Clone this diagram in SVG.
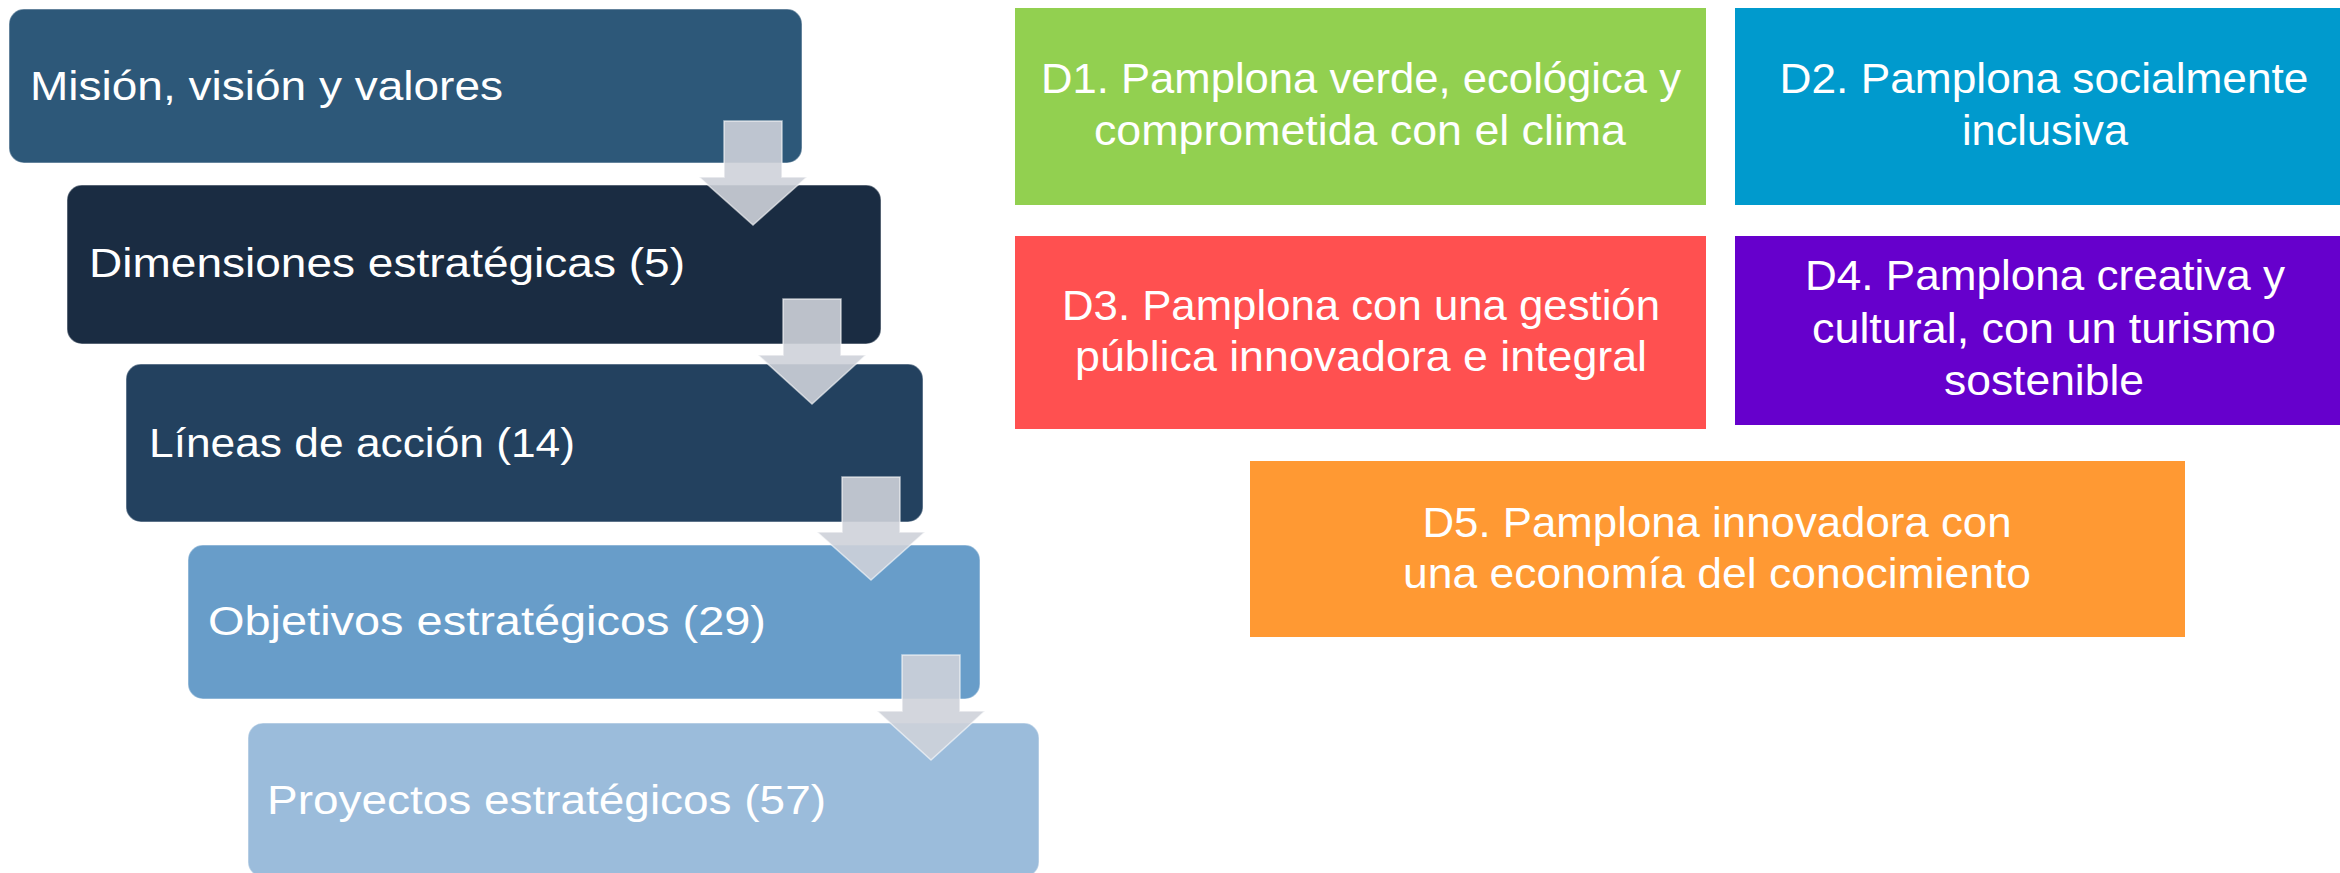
<svg xmlns="http://www.w3.org/2000/svg" width="2340" height="873" viewBox="0 0 2340 873">
<style>
.lbl{font-family:"Liberation Sans",Arial,sans-serif;fill:#fff;font-size:40px}
.dl{font-family:"Liberation Sans",Arial,sans-serif;fill:#fff;font-size:42px;text-anchor:middle}
.step{stroke:#ffffff;stroke-opacity:0.35;stroke-width:1.5}
.arr{fill:#CED1D9;fill-opacity:0.9;stroke:#ffffff;stroke-opacity:0.6;stroke-width:1.5}
</style>
<rect width="2340" height="873" fill="#ffffff"/>
<g id="n1"><rect class="step" x="9" y="9" width="793" height="154" rx="15" fill="#2D5879"/><text class="lbl" x="30" y="100" textLength="473" lengthAdjust="spacingAndGlyphs">Misión, visión y valores</text></g>
<g id="n2"><rect class="step" x="67" y="185" width="814" height="159" rx="15" fill="#1A2C42"/><text class="lbl" x="89" y="277" textLength="596" lengthAdjust="spacingAndGlyphs">Dimensiones estratégicas (5)</text></g>
<g id="n3"><rect class="step" x="126" y="364" width="797" height="158" rx="15" fill="#23415F"/><text class="lbl" x="149" y="457" textLength="426" lengthAdjust="spacingAndGlyphs">Líneas de acción (14)</text></g>
<g id="n4"><rect class="step" x="188" y="545" width="792" height="154" rx="15" fill="#689DC9"/><text class="lbl" x="208" y="635" textLength="558" lengthAdjust="spacingAndGlyphs">Objetivos estratégicos (29)</text></g>
<g id="n5"><rect class="step" x="248" y="723" width="791" height="154" rx="15" fill="#9BBCDB"/><text class="lbl" x="267" y="814" textLength="559" lengthAdjust="spacingAndGlyphs">Proyectos estratégicos (57)</text></g>
<g id="connectors">
<path class="arr" d="M724,121 H782 V177 H807 L753,225 L699,177 H724 Z"/>
<path class="arr" d="M783,299 H841 V355 H866 L812,404 L758,355 H783 Z"/>
<path class="arr" d="M842,477 H900 V532 H925 L871,580 L817,532 H842 Z"/>
<path class="arr" d="M902,655 H960 V711 H985 L931,760 L877,711 H902 Z"/>
</g>
<g id="d1"><rect x="1015" y="8" width="691" height="197" fill="#92D050"/><text class="dl" x="1361" y="93" textLength="640" lengthAdjust="spacingAndGlyphs">D1. Pamplona verde, ecológica y</text><text class="dl" x="1360" y="145" textLength="532" lengthAdjust="spacingAndGlyphs">comprometida con el clima</text></g>
<g id="d2"><rect x="1735" y="8" width="605" height="197" fill="#009ACD"/><text class="dl" x="2044" y="93" textLength="529" lengthAdjust="spacingAndGlyphs">D2. Pamplona socialmente</text><text class="dl" x="2045" y="145" textLength="166" lengthAdjust="spacingAndGlyphs">inclusiva</text></g>
<g id="d3"><rect x="1015" y="236" width="691" height="193" fill="#FF5050"/><text class="dl" x="1361" y="320" textLength="598" lengthAdjust="spacingAndGlyphs">D3. Pamplona con una gestión</text><text class="dl" x="1361" y="371" textLength="572" lengthAdjust="spacingAndGlyphs">pública innovadora e integral</text></g>
<g id="d4"><rect x="1735" y="236" width="605" height="189" fill="#6600CC"/><text class="dl" x="2045" y="290" textLength="480" lengthAdjust="spacingAndGlyphs">D4. Pamplona creativa y</text><text class="dl" x="2044" y="343" textLength="464" lengthAdjust="spacingAndGlyphs">cultural, con un turismo</text><text class="dl" x="2044" y="395" textLength="200" lengthAdjust="spacingAndGlyphs">sostenible</text></g>
<g id="d5"><rect x="1250" y="461" width="935" height="176" fill="#FF9933"/><text class="dl" x="1717" y="537" textLength="589" lengthAdjust="spacingAndGlyphs">D5. Pamplona innovadora con</text><text class="dl" x="1717" y="588" textLength="628" lengthAdjust="spacingAndGlyphs">una economía del conocimiento</text></g>
</svg>
